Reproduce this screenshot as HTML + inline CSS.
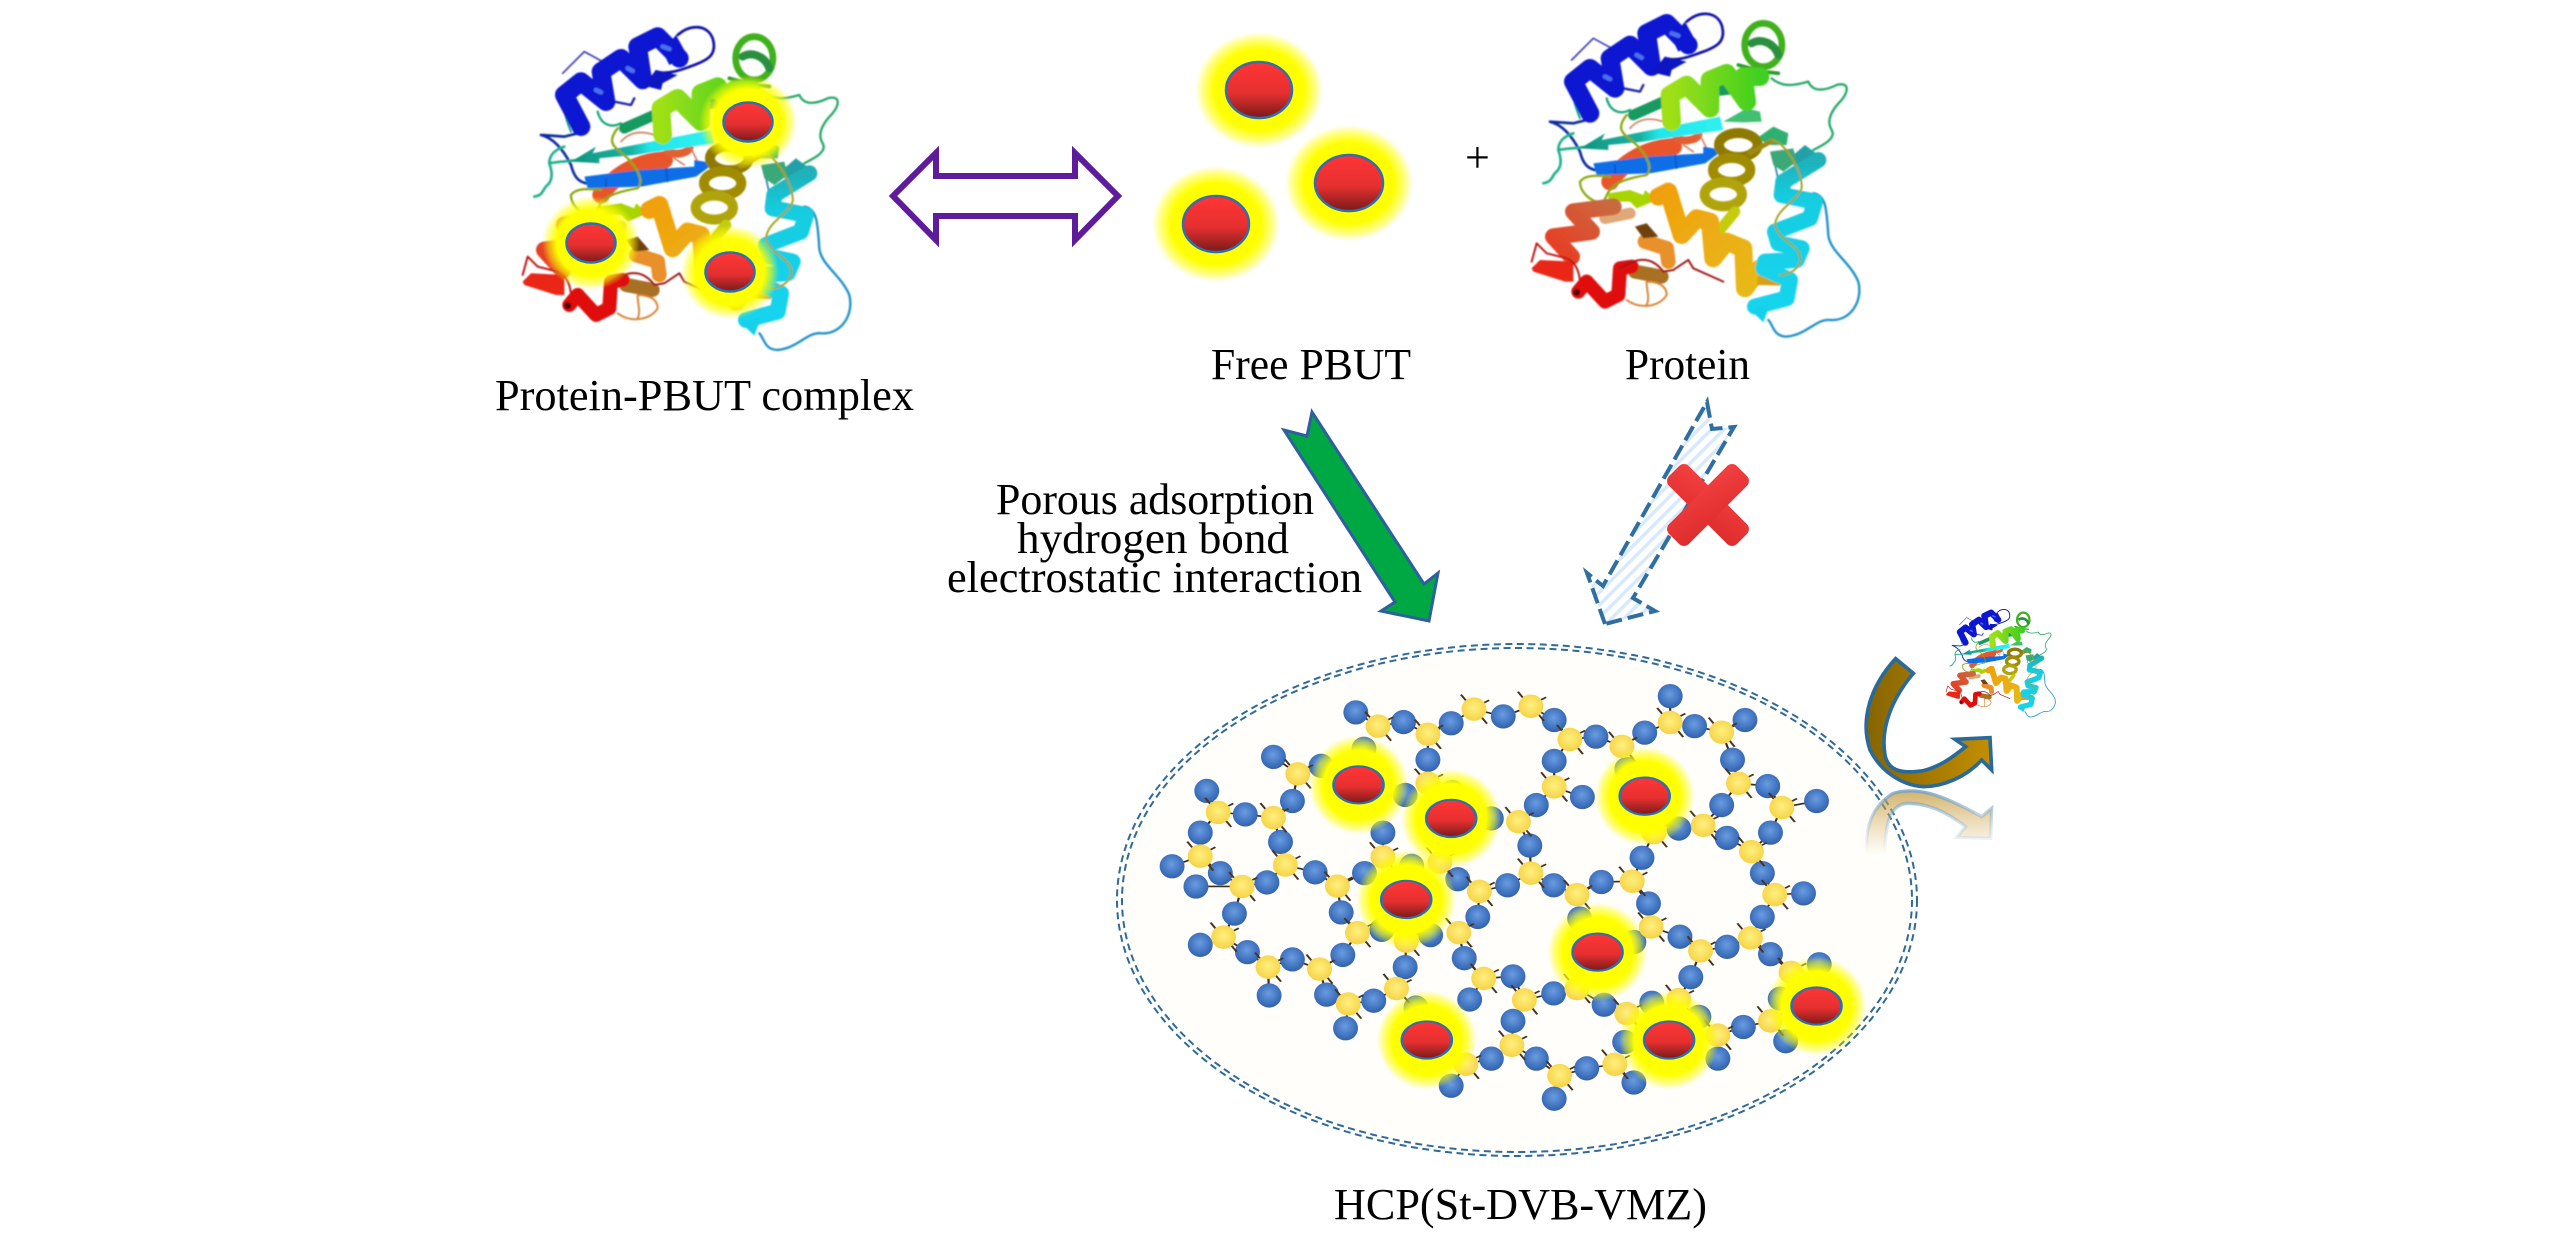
<!DOCTYPE html>
<html><head><meta charset="utf-8"><title>HCP adsorption diagram</title>
<style>html,body{margin:0;padding:0;background:#fff;width:2567px;height:1254px;overflow:hidden}svg{display:block}text{font-family:"Liberation Serif",serif;font-size:44px;fill:#000}</style></head>
<body>
<svg width="2567" height="1254" viewBox="0 0 2567 1254" xmlns="http://www.w3.org/2000/svg">
<defs>
<radialGradient id="gl"><stop offset="0" stop-color="#ff0"/><stop offset=".7" stop-color="#ff0"/><stop offset=".87" stop-color="#ff0" stop-opacity=".5"/><stop offset="1" stop-color="#ff0" stop-opacity="0"/></radialGradient>
<linearGradient id="rd" x1="0" y1="0" x2="0" y2="1"><stop offset="0" stop-color="#ff3535"/><stop offset=".55" stop-color="#e63030"/><stop offset="1" stop-color="#7a1a1a"/></linearGradient>
<radialGradient id="bl" cx=".48" cy=".42" r=".6"><stop offset="0" stop-color="#6a9ce0"/><stop offset=".75" stop-color="#3c6fbc"/><stop offset="1" stop-color="#345f9c"/></radialGradient>
<radialGradient id="yl" cx=".5" cy=".45" r=".6"><stop offset="0" stop-color="#fff080"/><stop offset="1" stop-color="#f5d040"/></radialGradient>
<linearGradient id="xr" x1="0" y1="0" x2="1" y2="1"><stop offset="0" stop-color="#f34040"/><stop offset="1" stop-color="#dd2c2c"/></linearGradient>
<linearGradient id="br" x1="0" y1="0" x2="1" y2="0"><stop offset="0" stop-color="#856400"/><stop offset="1" stop-color="#c48e00"/></linearGradient>
<linearGradient id="rf" x1="0" y1="0" x2="0" y2="1"><stop offset="0" stop-color="#c49a3a" stop-opacity=".75"/><stop offset="1" stop-color="#d8b060" stop-opacity="0"/></linearGradient>
<linearGradient id="rfs" x1="0" y1="0" x2="0" y2="1"><stop offset="0" stop-color="#6f9fc8" stop-opacity=".8"/><stop offset="1" stop-color="#a8c8e0" stop-opacity="0"/></linearGradient>
<linearGradient id="ts" x1="0" y1="0" x2="1" y2="0"><stop offset="0" stop-color="#0f9580"/><stop offset=".42" stop-color="#18b0a0"/><stop offset=".55" stop-color="#22e6ea"/><stop offset="1" stop-color="#30f0f0"/></linearGradient>
<linearGradient id="gy" x1="0" y1="0" x2="1" y2="0"><stop offset="0" stop-color="#a0e018"/><stop offset="1" stop-color="#3fcf20"/></linearGradient>
<linearGradient id="ro" x1="1" y1="0" x2="0" y2="1"><stop offset="0" stop-color="#c86a40"/><stop offset="1" stop-color="#ea3a22"/></linearGradient>
<linearGradient id="oy" x1="0" y1="0" x2="1" y2="1"><stop offset="0" stop-color="#f0a010"/><stop offset="1" stop-color="#e6bc14"/></linearGradient>
<linearGradient id="cy" x1="0" y1="0" x2="0" y2="1"><stop offset="0" stop-color="#20b0b8"/><stop offset=".25" stop-color="#14cce0"/><stop offset="1" stop-color="#14d4ee"/></linearGradient>
<filter id="bf" x="-5%" y="-5%" width="110%" height="110%"><feGaussianBlur stdDeviation="2.5"/></filter>
<pattern id="ht" width="9" height="9" patternUnits="userSpaceOnUse" patternTransform="rotate(-45)"><rect width="9" height="9" fill="#fff"/><rect width="9" height="3.5" fill="#d8eafa"/></pattern>
<ellipse id="b" rx="23" ry="30" fill="url(#bl)"/>
<g id="y"><path d="M-24 -36L-14 -20M24 36L14 20M28 -22L16 -14" stroke="#4a3420" stroke-width="4"/><ellipse rx="23" ry="29" fill="url(#yl)"/></g>
<ellipse id="g" rx="92" ry="122" fill="url(#gl)"/>
<ellipse id="r" rx="46" ry="46" fill="url(#rd)" stroke="#2e6fb0" stroke-width="5"/>
<g id="p" fill="none" stroke-linecap="round" stroke-linejoin="round" filter="url(#bf)">
<path d="M125 165L190 100L245 130" stroke="#3a3ab8" stroke-width="5"/>
<path d="M470 50C510 15 560 20 575 60C590 110 560 125 520 140C480 155 440 170 405 160" stroke="#0a10a8" stroke-width="8"/>
<path d="M340 240L330 260L280 250" stroke="#1a20a8" stroke-width="7"/>
<path d="M60 350C100 360 130 400 150 440C160 480 175 490 195 495M60 350L130 355L170 345" stroke="#0a2aa0" stroke-width="8"/>
<path d="M40 535C70 530 65 510 80 500C100 480 90 450 85 435C110 430 140 430 170 425M85 435C85 410 100 395 130 385" stroke="#20b08a" stroke-width="8"/>
<path d="M130 210C120 240 125 280 150 340M165 190L130 215" stroke="#18a088" stroke-width="6"/>
<path d="M725 220C760 250 800 240 835 230C850 265 890 255 920 240C960 230 955 260 935 285C900 320 890 350 905 375C920 400 880 420 850 435" stroke="#28a868" stroke-width="7"/>
<path d="M230 280C240 320 270 330 300 315" stroke="#18a878" stroke-width="7"/>
<path d="M850 565C890 570 890 620 895 690C900 740 960 770 985 830C1000 890 960 950 900 945C860 940 830 990 770 995C730 995 730 960 715 945" stroke="#1a90c8" stroke-width="7"/>
<path d="M735 480C745 520 750 560 755 575" stroke="#2080b0" stroke-width="5"/>
<path d="M240 530C280 470 350 430 430 425" stroke="#e8552a" stroke-width="52"/>
<path d="M440 400C470 415 510 400 505 385" stroke="#e06030" stroke-width="24"/>
<path d="M300 370C330 335 370 340 400 350M510 390L530 430M460 420L490 440" stroke="#d08060" stroke-width="5"/>
<path d="M310 330L400 290M500 265L620 250" stroke="#159a60" stroke-width="32"/>
<polygon points="150,430 225,385 215,405 340,380 570,335 580,375 340,410 235,420 235,435" fill="url(#ts)"/>
<polygon points="190,475 350,455 520,445 520,425 580,435 525,475 360,505 200,510" fill="#0a6ee8"/>
<path d="M255 480L255 505M355 465L362 500M435 450L440 490" stroke="#0a50b8" stroke-width="4"/>
<polygon points="580,350 650,310 690,320 695,350 640,352" fill="#40c070"/>
<polygon points="680,400 730,365 775,385 770,420 720,420" fill="#2fb070"/>
<polygon points="790,450 825,420 865,450 865,490 790,480" fill="#20a0a8"/>
<polygon points="720,440 790,430 800,470 760,500 730,480" fill="#3aa878"/>
<path d="M180 325L130 230L180 190L255 250L240 160L300 120L365 185L350 85L410 55L475 120" stroke="#0a14d0" stroke-width="56"/>
<polygon points="465,50 498,110 445,140 425,100" fill="#0a14d0"/>
<polygon points="360,210 405,155 470,170 425,195 420,215 380,205" fill="#0a14c0"/>
<path d="M225 215L240 222M320 150L335 158M425 85L445 92" stroke="#4a70f0" stroke-width="14"/>
<ellipse cx="700" cy="120" rx="56" ry="65" stroke="#3fb01c" stroke-width="20"/>
<path d="M665 115C690 100 730 110 745 150" stroke="#2a9040" stroke-width="24"/>
<path d="M625 180L700 200L745 205" stroke="#2a9a2a" stroke-width="11"/>
<path d="M425 350L420 270L470 240L540 310L540 225L590 205L650 290L640 215L690 215" stroke="url(#gy)" stroke-width="56"/>
<ellipse cx="625" cy="420" rx="58" ry="36" stroke="#8e7a00" stroke-width="30"/>
<ellipse cx="605" cy="495" rx="56" ry="36" stroke="#a08c00" stroke-width="30"/>
<ellipse cx="580" cy="568" rx="56" ry="36" stroke="#b0a408" stroke-width="30"/>
<path d="M615 620L570 675" stroke="#c4cc10" stroke-width="32"/>
<path d="M660 445L725 408" stroke="#a08a10" stroke-width="14"/>
<polygon points="235,565 300,555 340,570 345,555 380,585 320,610 300,590 235,590" fill="#a8d400"/>
<path d="M150 530C165 510 200 510 240 515M150 530C150 570 200 600 220 590C240 560 230 530 350 510C370 490 350 450 320 420C290 390 250 380 290 330" stroke="#8aa810" stroke-width="7"/>
<path d="M225 640L300 625" stroke="#e0a878" stroke-width="34"/>
<path d="M250 605L130 620L185 680L70 695L125 755" stroke="url(#ro)" stroke-width="50"/>
<polygon points="5,790 30,765 130,770 130,830 105,830 10,800" fill="#ea2818"/>
<path d="M5 770L20 715L50 745L110 760C140 770 150 810 150 835" stroke="#c01818" stroke-width="6"/>
<path d="M345 710L410 730L415 770" stroke="#e8902a" stroke-width="44"/>
<polygon points="315,665 350,655 385,695 340,700" fill="#704010"/>
<path d="M315 800L395 815" stroke="#a87020" stroke-width="42"/>
<path d="M290 885C330 915 390 905 410 870C410 840 380 830 350 830C350 860 360 880 350 900" stroke="#d8863a" stroke-width="6"/>
<path d="M145 860L170 830L225 890L265 870L270 790L305 785" stroke="#e00808" stroke-width="42"/>
<circle cx="140" cy="862" r="10" fill="#400"/>
<path d="M270 790C330 750 370 760 400 800L430 795L475 765L490 790L580 830" stroke="#a01818" stroke-width="6"/>
<path d="M385 575L415 560L455 690L500 640L540 650L550 760L590 710L640 730L645 850L690 790L745 815" stroke="url(#oy)" stroke-width="54"/>
<polygon points="690,785 752,790 752,842 680,840" fill="#d8a018"/>
<path d="M865 465L760 530L755 570L855 590L840 640L735 680L745 715L815 730L800 765L705 770L700 790L780 825L770 880L675 905" stroke="url(#cy)" stroke-width="48"/>
<polygon points="658,912 722,895 700,952" fill="#14d0ea"/>
<path d="M725 405C770 410 820 510 815 550C800 590 740 610 735 660C745 710 820 720 810 770C800 800 770 810 750 810" stroke="#a8a020" stroke-width="6"/>
</g>
</defs>
<rect width="2567" height="1254" fill="#fff"/>

<!-- Left complex -->
<use href="#p" transform="translate(521 18.3) scale(.3333)"/>
<ellipse cx="748" cy="122" rx="49" ry="47" fill="url(#gl)"/>
<ellipse cx="591" cy="243" rx="49" ry="47" fill="url(#gl)"/>
<ellipse cx="730" cy="272" rx="49" ry="47" fill="url(#gl)"/>
<g fill="url(#rd)" stroke="#2e6fb0" stroke-width="2.5">
<ellipse cx="748" cy="122" rx="24.5" ry="19.5"/>
<ellipse cx="591" cy="243" rx="24.5" ry="19.5"/>
<ellipse cx="730" cy="272" rx="24.5" ry="19.5"/>
</g>
<text x="495" y="410" textLength="419" lengthAdjust="spacingAndGlyphs">Protein-PBUT complex</text>

<!-- Double arrow -->
<polygon points="893,196 936,153 936,176 1075,176 1075,153 1118,196 1075,240 1075,216 936,216 936,240" fill="#fff" stroke="#5e1c9c" stroke-width="6"/>

<!-- Free PBUT -->
<ellipse cx="1259" cy="90" rx="64" ry="58" fill="url(#gl)"/>
<ellipse cx="1349" cy="183" rx="64" ry="58" fill="url(#gl)"/>
<ellipse cx="1216" cy="224" rx="64" ry="58" fill="url(#gl)"/>
<g fill="url(#rd)" stroke="#2e6fb0" stroke-width="2.5">
<ellipse cx="1259" cy="90" rx="33" ry="28"/>
<ellipse cx="1349" cy="183" rx="34" ry="28"/>
<ellipse cx="1216" cy="224" rx="33" ry="28"/>
</g>
<text x="1211" y="379" textLength="200" lengthAdjust="spacingAndGlyphs">Free PBUT</text>
<text x="1465" y="172">+</text>

<!-- Protein -->
<use href="#p" transform="translate(1530 5) scale(.3333)"/>
<text x="1625" y="379" textLength="125" lengthAdjust="spacingAndGlyphs">Protein</text>

<!-- Arrows -->
<polygon points="1429,621 1438,573 1424,584 1312,412 1307,436 1284,430 1395,602 1381,611" fill="#00a844" stroke="#2f5f9f" stroke-width="3"/>
<polygon points="1605,624 1587,573 1603,586 1699,416 1707,402 1712,429 1734,427 1633,598 1655,611" fill="url(#ht)" stroke="#2e6ea0" stroke-width="4" stroke-dasharray="16 6"/>
<g transform="translate(1708 505) rotate(45)" fill="url(#xr)">
<rect x="-48" y="-14" width="96" height="28" rx="7"/>
<rect x="-14" y="-48" width="28" height="96" rx="7"/>
</g>
<text x="996" y="514" textLength="318" lengthAdjust="spacingAndGlyphs">Porous adsorption</text>
<text x="1017" y="553" textLength="272" lengthAdjust="spacingAndGlyphs">hydrogen bond</text>
<text x="947" y="592" textLength="415" lengthAdjust="spacingAndGlyphs">electrostatic interaction</text>

<!-- Ellipse -->
<ellipse cx="1517" cy="900" rx="400" ry="256" fill="#fffefa" stroke="#2e6a9a" stroke-width="2" stroke-dasharray="7 4.5"/>
<ellipse cx="1517" cy="900" rx="395" ry="252" fill="none" stroke="#2e6a9a" stroke-width="2" stroke-dasharray="7 4.5"/>

<!-- Network -->
<g transform="translate(1100 620) scale(.542 .405)">
<path fill="none" stroke="#3a2a20" stroke-width="4" d="M472 228L513 262L560 252L605 282L648 255L690 220L744 238L795 213L838 247L867 295L915 288L963 312L1005 278L1052 253L1052 188M1052 253L1097 262L1147 277L1190 247M1147 277L1167 345L1178 403L1232 410L1258 463L1322 447M1258 463L1237 525L1202 572M1178 403L1147 457L1113 507L1157 538L1202 572L1222 625L1245 678L1298 675M1245 678L1222 733L1200 785L1157 807L1108 817M1200 785L1237 825L1275 870M1108 817L1070 782L1017 758L1012 700L982 645L925 647L880 678L837 655L795 625L752 655L700 670L660 640L627 598M795 625L793 557L772 498L805 457L838 412L838 348L867 295M838 412L890 437M982 645L1000 587L1022 525M1108 817L1090 882L1068 937M605 282L605 345L605 403M365 380L320 338M365 380L355 447L320 488L268 480L218 475L197 422M218 475L185 525L185 583L133 608M185 583L222 625L262 658L308 648L342 605L333 548L320 488M342 605L397 623L438 657L488 625M438 657L445 722L475 772L448 827L405 862L355 838L310 857L272 820L228 783L185 802M228 783L248 725L262 658M262 658L177 658M310 857L312 927M405 862L418 925L458 948L453 1008M458 948L505 940L547 910L563 857L565 793M700 670L697 733L662 772L672 835L708 885L682 937M708 885L762 880L783 938L837 922L880 910L930 950L972 972M783 938L762 990L760 1050L722 1083L675 1097L648 1150M760 1050L805 1083L848 1125L838 1182M848 1125L898 1107L950 1097L985 1142M1140 1025L1187 1005L1237 990M522 525L522 585"/>
<use href="#b" x="472" y="228"/><use href="#b" x="560" y="252"/><use href="#b" x="648" y="255"/><use href="#b" x="744" y="238"/><use href="#b" x="838" y="247"/><use href="#b" x="915" y="288"/><use href="#b" x="1005" y="278"/><use href="#b" x="1052" y="188"/><use href="#b" x="1097" y="262"/><use href="#b" x="1190" y="247"/>
<use href="#b" x="320" y="338"/><use href="#b" x="605" y="345"/><use href="#b" x="838" y="348"/><use href="#b" x="1167" y="345"/><use href="#b" x="408" y="360"/><use href="#b" x="487" y="318"/><use href="#b" x="972" y="368"/>
<use href="#b" x="355" y="447"/><use href="#b" x="197" y="422"/><use href="#b" x="268" y="480"/><use href="#b" x="805" y="457"/><use href="#b" x="890" y="437"/><use href="#b" x="1147" y="457"/><use href="#b" x="1232" y="410"/><use href="#b" x="1322" y="447"/>
<use href="#b" x="563" y="432"/><use href="#b" x="650" y="425"/><use href="#b" x="722" y="490"/><use href="#b" x="1068" y="515"/>
<use href="#b" x="185" y="525"/><use href="#b" x="333" y="548"/><use href="#b" x="522" y="525"/><use href="#b" x="793" y="557"/><use href="#b" x="1157" y="538"/><use href="#b" x="1237" y="525"/>
<use href="#b" x="1000" y="587"/><use href="#b" x="133" y="608"/><use href="#b" x="222" y="625"/><use href="#b" x="177" y="658"/><use href="#b" x="308" y="648"/><use href="#b" x="397" y="623"/><use href="#b" x="488" y="625"/><use href="#b" x="575" y="607"/><use href="#b" x="660" y="640"/><use href="#b" x="752" y="655"/><use href="#b" x="837" y="655"/><use href="#b" x="925" y="647"/><use href="#b" x="1222" y="625"/>
<use href="#b" x="1012" y="700"/><use href="#b" x="1298" y="675"/><use href="#b" x="248" y="725"/><use href="#b" x="445" y="722"/><use href="#b" x="697" y="733"/><use href="#b" x="885" y="737"/><use href="#b" x="1222" y="733"/>
<use href="#b" x="520" y="765"/><use href="#b" x="610" y="778"/><use href="#b" x="985" y="795"/><use href="#b" x="1070" y="782"/><use href="#b" x="185" y="802"/><use href="#b" x="272" y="820"/><use href="#b" x="355" y="838"/><use href="#b" x="448" y="827"/><use href="#b" x="672" y="835"/><use href="#b" x="563" y="857"/><use href="#b" x="1157" y="807"/><use href="#b" x="1237" y="825"/><use href="#b" x="1327" y="850"/>
<use href="#b" x="762" y="880"/><use href="#b" x="1090" y="882"/><use href="#b" x="312" y="927"/><use href="#b" x="418" y="925"/><use href="#b" x="505" y="940"/><use href="#b" x="682" y="937"/><use href="#b" x="837" y="922"/><use href="#b" x="930" y="950"/><use href="#b" x="583" y="957"/><use href="#b" x="1018" y="945"/><use href="#b" x="1105" y="980"/><use href="#b" x="1255" y="935"/>
<use href="#b" x="762" y="990"/><use href="#b" x="453" y="1008"/><use href="#b" x="1187" y="1005"/><use href="#b" x="1265" y="1040"/><use href="#b" x="968" y="1042"/><use href="#b" x="1140" y="1083"/><use href="#b" x="722" y="1083"/><use href="#b" x="805" y="1083"/><use href="#b" x="898" y="1107"/><use href="#b" x="648" y="1150"/><use href="#b" x="985" y="1142"/><use href="#b" x="838" y="1182"/>

<use href="#y" x="513" y="262"/><use href="#y" x="605" y="282"/><use href="#y" x="690" y="220"/><use href="#y" x="795" y="213"/><use href="#y" x="867" y="295"/><use href="#y" x="963" y="312"/><use href="#y" x="1052" y="253"/><use href="#y" x="1147" y="277"/>
<use href="#y" x="365" y="380"/><use href="#y" x="605" y="403"/><use href="#y" x="838" y="412"/><use href="#y" x="1178" y="403"/><use href="#y" x="218" y="475"/><use href="#y" x="320" y="488"/><use href="#y" x="772" y="498"/><use href="#y" x="1113" y="507"/><use href="#y" x="1258" y="463"/><use href="#y" x="1022" y="525"/>
<use href="#y" x="185" y="583"/><use href="#y" x="342" y="605"/><use href="#y" x="522" y="585"/><use href="#y" x="627" y="598"/><use href="#y" x="795" y="625"/><use href="#y" x="1202" y="572"/><use href="#y" x="262" y="658"/><use href="#y" x="438" y="657"/><use href="#y" x="700" y="670"/><use href="#y" x="880" y="678"/><use href="#y" x="982" y="645"/><use href="#y" x="1245" y="678"/>
<use href="#y" x="228" y="783"/><use href="#y" x="475" y="772"/><use href="#y" x="662" y="772"/><use href="#y" x="565" y="793"/><use href="#y" x="1017" y="758"/><use href="#y" x="1200" y="785"/><use href="#y" x="1108" y="817"/><use href="#y" x="310" y="857"/><use href="#y" x="405" y="862"/><use href="#y" x="708" y="885"/><use href="#y" x="880" y="910"/><use href="#y" x="547" y="910"/><use href="#y" x="783" y="938"/><use href="#y" x="458" y="948"/><use href="#y" x="1068" y="937"/><use href="#y" x="972" y="972"/><use href="#y" x="1275" y="870"/><use href="#y" x="1237" y="990"/><use href="#y" x="1140" y="1025"/><use href="#y" x="760" y="1050"/><use href="#y" x="675" y="1097"/><use href="#y" x="848" y="1125"/><use href="#y" x="950" y="1097"/>

<use href="#g" x="477" y="407"/><use href="#g" x="648" y="490"/><use href="#g" x="1005" y="435"/><use href="#g" x="565" y="690"/><use href="#g" x="918" y="820"/><use href="#g" x="603" y="1037"/><use href="#g" x="1050" y="1037"/><use href="#g" x="1322" y="953"/>
<use href="#r" x="477" y="407"/><use href="#r" x="648" y="490"/><use href="#r" x="1005" y="435"/><use href="#r" x="565" y="690"/><use href="#r" x="918" y="820"/><use href="#r" x="603" y="1037"/><use href="#r" x="1050" y="1037"/><use href="#r" x="1322" y="953"/>
</g>
<text x="1334" y="1219" textLength="373" lengthAdjust="spacingAndGlyphs">HCP(St-DVB-VMZ)</text>

<!-- Curved arrow -->
<g transform="translate(1800 560) scale(.3333)">
<path d="M200 885C195 800 215 740 280 700C350 680 420 700 545 770L575 745L572 835L470 832L497 800C430 750 380 730 320 730C270 735 255 790 255 885Z" fill="url(#rf)" stroke="url(#rfs)" stroke-width="10"/>
<path d="M287 296L340 340C280 410 240 500 255 585C265 640 320 640 370 632C420 620 460 590 497 560L465 538L570 533L575 630L545 600C500 650 430 680 370 680C300 675 240 630 210 570C180 480 210 380 287 296Z" fill="url(#br)" stroke="#2a6a9a" stroke-width="11" stroke-linejoin="miter"/>
</g>
<!-- Small protein -->
<use href="#p" transform="translate(1945.5 606.5) scale(.1111)"/>
</svg>
</body></html>
